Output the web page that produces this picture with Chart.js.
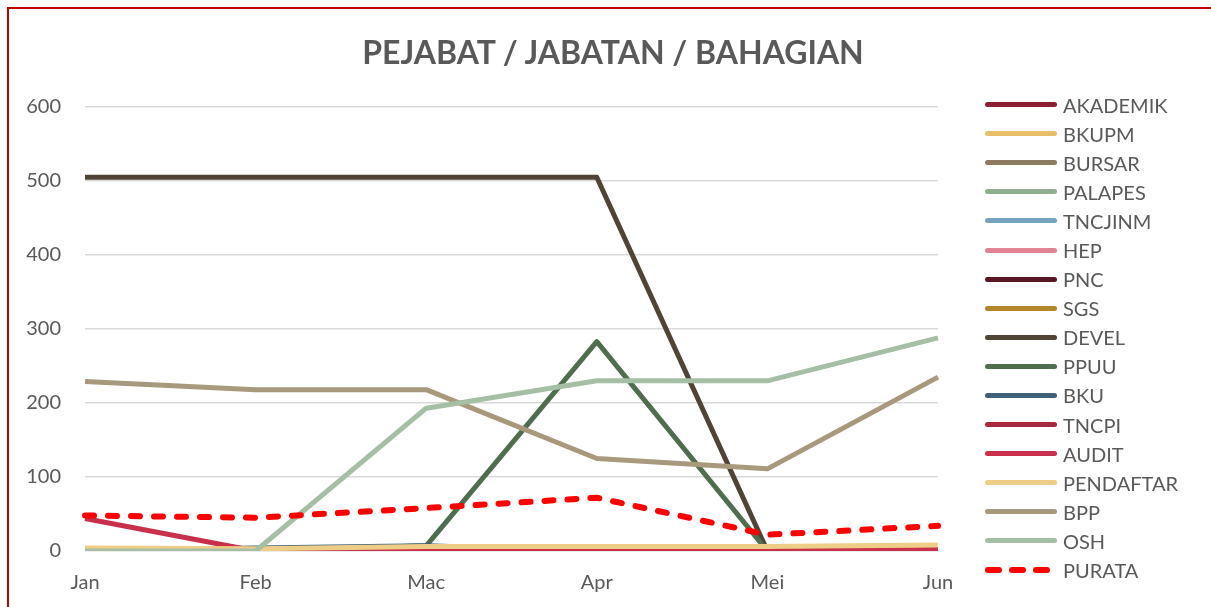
<!DOCTYPE html>
<html>
<head>
<meta charset="utf-8">
<script src="https://cdn.jsdelivr.net/npm/chart.js@4/dist/chart.umd.min.js"></script>
<style>
  body { margin: 0; background: #fff; overflow: hidden; }
  #frame { position: absolute; left: 7px; top: 7px; width: 1240px; height: 640px; border: 2px solid #C00000; box-sizing: border-box; }
  #wrap { position: absolute; left: 0; top: 0; width: 1211px; height: 607px; }
  #title { position: absolute; left: 313px; width: 600px; top: 32px; text-align: center; font-family: Lato, sans-serif; font-weight: bold; font-size: 32px; color: #595959; line-height: 40px; }
  #legend { position: absolute; left: 985px; top: 90px; margin: 0; padding: 0; list-style: none; font-family: Lato, sans-serif; font-size: 20px; color: #595959; }
  #legend li { display: flex; align-items: center; height: 29.1px; }
  #legend .swatch { width: 72px; height: 5px; border-radius: 3px; margin-right: 6px; flex-shrink: 0; }
  #legend .dash { display: flex; width: 72px; margin-right: 6px; gap: 7px; }
  #legend .dash span { width: 17px; height: 6px; border-radius: 3px; background: #FF0000; }
</style>
</head>
<body>
<div id="frame"></div>
<div id="wrap"><canvas id="lineChart"></canvas></div>
<div id="title">PEJABAT / JABATAN / BAHAGIAN</div>
<ul id="legend"></ul>
<script>
const months = ['Jan', 'Feb', 'Mac', 'Apr', 'Mei', 'Jun'];
const yTicks = [0, 100, 200, 300, 400, 500, 600];

const seriesNames = ['AKADEMIK', 'BKUPM', 'BURSAR', 'PALAPES', 'TNCJINM', 'HEP', 'PNC', 'SGS',
  'DEVEL', 'PPUU', 'BKU', 'TNCPI', 'AUDIT', 'PENDAFTAR', 'BPP', 'OSH', 'PURATA'];

const akademik  = [0, 0, 0, 0, 0, 0];
const bkupm     = [3, 3, 5, 5, 5, 7];
const bursar    = [0, 0, 0, 0, 0, 0];
const palapes   = [0, 0, 0, 0, 0, 0];
const tncjinm   = [0, 0, 0, 0, 0, 0];
const hep       = [0, 0, 0, 0, 0, 0];
const pnc       = [0, 0, 0, 0, 0, 0];
const sgs       = [0, 0, 0, 0, 0, 0];
const devel     = [505, 505, 505, 505, 0, 0];
const ppuu      = [0, 0, 7, 283, 0, 0];
const bku       = [0, 4, 7, 0, 0, 0];
const tncpi     = [0, 0, 0, 0, 0, 0];
const audit     = [44, 0, 0, 0, 0, 2];
const pendaftar = [4, 3, 6, 6, 6, 8];
const bpp       = [229, 218, 218, 125, 111, 235];
const osh       = [0, 0, 193, 230, 230, 288];
const purata    = [48, 45, 58, 72, 22, 34];

const seriesValues = [akademik, bkupm, bursar, palapes, tncjinm, hep, pnc, sgs,
  devel, ppuu, bku, tncpi, audit, pendaftar, bpp, osh, purata];

const seriesColors = ['#8E1F33', '#E8C06A', '#8C7B5E', '#8FB08C', '#76A3BE', '#E08494', '#5A1624', '#B3862A',
  '#4F4436', '#4E6E4E', '#3E6079', '#A8283E', '#C8304C', '#EECD86', '#A8987C', '#A5BFA5', '#FF0000'];

const datasets = seriesNames.map((name, i) => {
  const isAvg = name === 'PURATA';
  return {
    label: name,
    data: seriesValues[i],
    borderColor: seriesColors[i],
    backgroundColor: seriesColors[i],
    borderWidth: isAvg ? 6 : 5,
    borderDash: isAvg ? [9, 14] : [],
    borderCapStyle: isAvg ? 'round' : 'butt',
    borderJoinStyle: 'round',
    pointRadius: 0,
    tension: 0,
    fill: false,
    // later series drawn on top, like the original
    order: seriesNames.length - i
  };
});

Chart.defaults.font.family = 'Lato, sans-serif';
Chart.defaults.color = '#595959';

new Chart(document.getElementById('lineChart'), {
  type: 'line',
  data: { labels: months, datasets: datasets },
  options: {
    responsive: true,
    maintainAspectRatio: false,
    animation: false,
    layout: { padding: { left: 10, right: 273, top: 107, bottom: 0 } },
    plugins: {
      legend: { display: false },
      tooltip: { enabled: false },
      title: { display: false }
    },
    scales: {
      x: {
        offset: false,
        grid: { display: false, drawTicks: false },
        border: { display: false },
        ticks: { font: { size: 20 }, padding: 20, maxRotation: 0 },
        afterFit: scale => { scale.height = 56; }
      },
      y: {
        min: 0,
        max: 600,
        afterBuildTicks: scale => { scale.ticks = yTicks.map(v => ({ value: v })); },
        grid: { color: '#D9D9D9', lineWidth: 1.5, drawTicks: false },
        border: { display: false },
        ticks: { font: { size: 20 }, padding: 24 },
        afterFit: scale => { scale.width = 75; }
      }
    }
  }
});

// html legend, one row per series
const legendList = document.getElementById('legend');
seriesNames.forEach((name, i) => {
  const li = document.createElement('li');
  if (name === 'PURATA') {
    const dash = document.createElement('div');
    dash.className = 'dash';
    for (let k = 0; k < 3; k++) dash.appendChild(document.createElement('span'));
    li.appendChild(dash);
  } else {
    const sw = document.createElement('span');
    sw.className = 'swatch';
    sw.style.background = seriesColors[i];
    li.appendChild(sw);
  }
  const txt = document.createElement('span');
  txt.textContent = name;
  li.appendChild(txt);
  legendList.appendChild(li);
});
</script>
</body>
</html>
